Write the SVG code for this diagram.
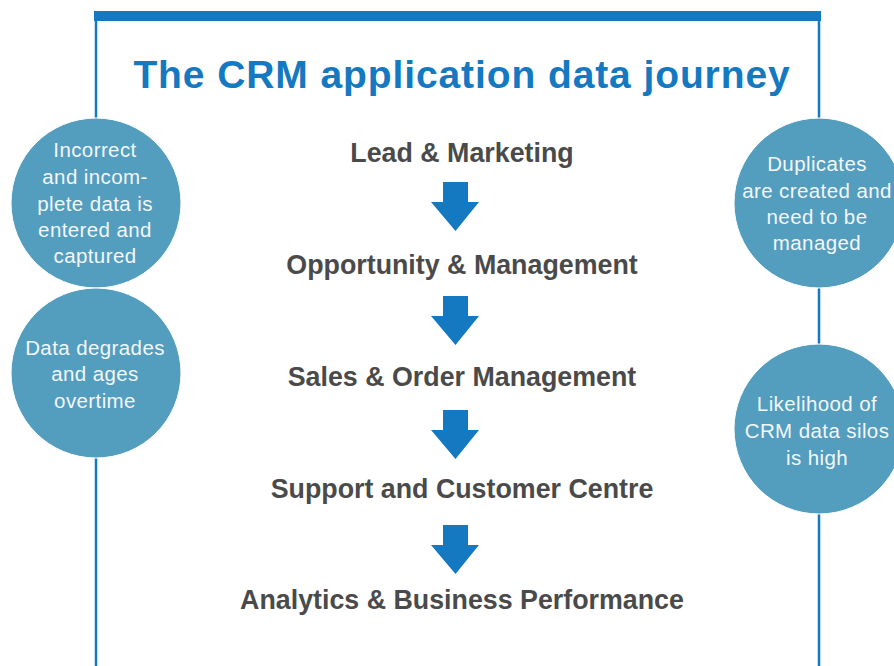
<svg xmlns="http://www.w3.org/2000/svg" width="894" height="666" viewBox="0 0 894 666">
  <style>
    .frame { stroke: #1479c0; stroke-width: 2.5; fill: none; }
    .bar { fill: #1479c0; }
    .title { font-family: "Liberation Sans", Arial, sans-serif; font-weight: bold; font-size: 39px; fill: #1479c0; letter-spacing: 0.9px; text-anchor: middle; }
    .step { font-family: "Liberation Sans", Arial, sans-serif; font-weight: bold; font-size: 26.8px; fill: #4a4a4a; text-anchor: middle; }
    .bubble { fill: #539dbf; stroke: #ffffff; stroke-width: 1; }
    .btext { font-family: "Liberation Sans", Arial, sans-serif; font-size: 20.5px; fill: #f3f7fa; letter-spacing: 0.4px; text-anchor: middle; }
    .arrow { fill: #1479c0; }
  </style>
  <defs>
    <path id="arr" d="M443,0 H468 V20 H479 L455.5,49 L431,20 H443 Z"/>
  </defs>
  <rect width="894" height="666" fill="#ffffff"/>
  <g id="frame">
    <rect class="bar" x="94" y="11" width="727" height="10"/>
    <line class="frame" x1="96" y1="15" x2="96" y2="666"/>
    <line class="frame" x1="819" y1="15" x2="819" y2="666"/>
  </g>
  <g id="title">
    <text class="title" x="462" y="88">The CRM application data journey</text>
  </g>
  <g id="connectors">
    <use href="#arr" class="arrow" y="182"/>
    <use href="#arr" class="arrow" y="296"/>
    <use href="#arr" class="arrow" y="410"/>
    <use href="#arr" class="arrow" y="525"/>
  </g>
  <g id="step1"><text class="step" x="462" y="162">Lead &amp; Marketing</text></g>
  <g id="step2"><text class="step" x="462" y="274">Opportunity &amp; Management</text></g>
  <g id="step3"><text class="step" x="462" y="386">Sales &amp; Order Management</text></g>
  <g id="step4"><text class="step" x="462" y="498">Support and Customer Centre</text></g>
  <g id="step5"><text class="step" x="462" y="609">Analytics &amp; Business Performance</text></g>
  <g id="issue-left-1">
    <circle class="bubble" cx="96" cy="203" r="85"/>
    <text class="btext" x="95" y="157">Incorrect</text>
    <text class="btext" x="95" y="184">and incom-</text>
    <text class="btext" x="95" y="211">plete data is</text>
    <text class="btext" x="95" y="237">entered and</text>
    <text class="btext" x="95" y="263">captured</text>
  </g>
  <g id="issue-left-2">
    <circle class="bubble" cx="96" cy="373" r="85"/>
    <text class="btext" x="95" y="355">Data degrades</text>
    <text class="btext" x="95" y="381">and ages</text>
    <text class="btext" x="95" y="408">overtime</text>
  </g>
  <g id="issue-right-1">
    <circle class="bubble" cx="819" cy="203" r="85"/>
    <text class="btext" x="817" y="171">Duplicates</text>
    <text class="btext" x="817" y="198">are created and</text>
    <text class="btext" x="817" y="224">need to be</text>
    <text class="btext" x="817" y="250">managed</text>
  </g>
  <g id="issue-right-2">
    <circle class="bubble" cx="819" cy="429" r="85"/>
    <text class="btext" x="817" y="411">Likelihood of</text>
    <text class="btext" x="817" y="438">CRM data silos</text>
    <text class="btext" x="817" y="465">is high</text>
  </g>
</svg>
